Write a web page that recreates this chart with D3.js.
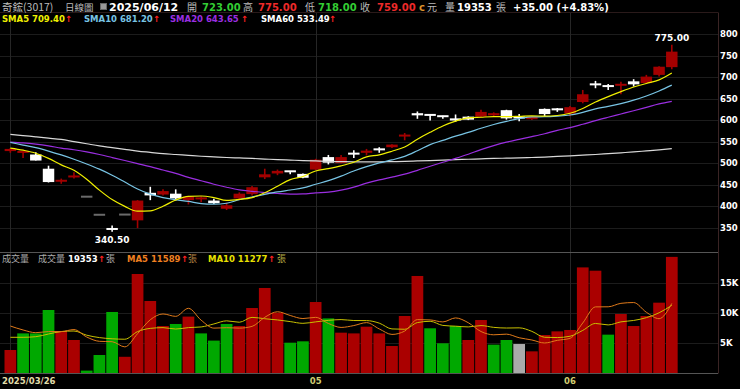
<html>
<head>
<meta charset="utf-8">
<script src="https://cdn.jsdelivr.net/npm/d3@7"></script>
<style>
body { margin: 0; background: #000; }
text { font-family: "DejaVu Sans", Verdana, sans-serif; }
.cjk { font-family: "Noto Sans CJK TC", "Noto Sans CJK SC", sans-serif; }
</style>
</head>
<body>
<svg id="chart" width="740" height="389"></svg>
<script>
// trading days shown (3017 daily)
var dates = ["2025/03/26","2025/03/27","2025/03/28","2025/03/31","2025/04/01","2025/04/02","2025/04/07","2025/04/08",
  "2025/04/09","2025/04/10","2025/04/11","2025/04/14","2025/04/15","2025/04/16","2025/04/17","2025/04/18","2025/04/21",
  "2025/04/22","2025/04/23","2025/04/24","2025/04/25","2025/04/28","2025/04/29","2025/04/30","2025/05/02","2025/05/05",
  "2025/05/06","2025/05/07","2025/05/08","2025/05/09","2025/05/12","2025/05/13","2025/05/14","2025/05/15","2025/05/16",
  "2025/05/19","2025/05/20","2025/05/21","2025/05/22","2025/05/23","2025/05/26","2025/05/27","2025/05/28","2025/05/29",
  "2025/06/02","2025/06/03","2025/06/04","2025/06/05","2025/06/06","2025/06/09","2025/06/10","2025/06/11","2025/06/12"];

var opens  = [528,522,520,487,457,467,422,380,347,380.5,367,431,427,429,414,415,413,394,418,428,467,476,481,475,485,514,500,522,524,532,537,561,616,612,609,604,608,608,611,623,606,602,626,625,615,642,683,679,678,690,686,705,723];
var highs  = [535,527,525,494,464,479,422,380,355,380.5,414,445,439,439,424,423,417,408,432,447,487,485,481,476,510,519,519,530,533,537,544,570,620,613,610,613,609,624,618,624,614,608,627,628,633,670,691,684,689,695,705,725,775];
var lows   = [524,512,506,455,452,464,422,380,340.5,380.5,349,414,425,413,404,409,405,391,416,425,463,472,474,465,484,497,499,512,518,524,535,553,603,599,603,596,600,606,609,601,597,600,608,619,609,639,674,670,660,678,684,701,718];
var closes = [533,526,506,456,459,469,422,380,346,380.5,413,425,435,418,422,418,407,402,429,444,474,482,479,466,508,501,514,521,529,531,543,564,611,609,605,599,601,619,616,604,604,607,614,624,630,660,682,677,682,683,701,724,759];
var prevClose = 525;

var volume = [3833,6600,6600,10500,7000,5500,400,3000,10170,2700,16500,12000,7830,8170,9400,6600,5400,8170,7830,10830,14170,10050,5050,5280,11830,9100,6720,6600,7720,6600,4500,9500,16170,7450,4950,7830,5500,8830,4720,5500,4830,3610,6330,6940,7170,17600,17050,6390,9830,7830,9500,11720,19353];

var sma5  = [535,530,523,511,496,483.2,462.4,437.2,415.2,399.5,388.3,388.9,399.9,414.3,422.6,423.6,420,413.4,415.6,420,431.2,446.2,461.6,469,481.8,487.2,493.6,502,514.6,519.2,527.6,537.6,555.6,571.6,586.4,597.6,605,606.6,608,607.8,608.8,610,609,610.6,615.8,627,642,654.6,666.2,676.8,685,693.4,709.4];
var sma10 = [548,542,536,528,519,509,498,486,472,456,440,428,420,415,411,406,404.5,406.7,415,421.3,427.4,433.1,437.5,442.3,450.9,459.2,469.9,481.8,491.8,500.5,507.4,515.6,528.8,543.1,552.8,562.6,571.3,581.1,589.8,597.1,603.2,607.5,607.8,609.3,611.8,617.9,626,631.8,638.4,646.3,656,667.7,681.2];
var sma20 = [549,547,544,540,535,531,526,520,513,506,499,492,484,476,467,459,451,444,438,434.5,431.6,429.4,428,428.5,431,432.6,437.2,444.2,453.4,460.9,467.4,474.4,483.2,492.7,501.9,510.9,520.6,531.5,540.8,548.8,555.3,561.6,568.3,576.2,582.3,590.3,598.7,606.5,614.1,621.7,629.6,637.6,643.65];
var sma60 = [567,564,561,558,555,550,545,540,536,532,528,525,522,520,518,516,514.5,513,512,511,509.5,508,507,506,505,504,503.5,503,503,503,503.5,504,505,506,507,508,509,510,511,511.5,512,513,514,515.5,517,518.5,520,522,524,526,528.5,531,533.49];

var volMa5  = [7830,7170,6720,6900,6907,7240,6000,5280,5214,4354,6554,8874,9840,9440,10780,8800,7480,7548,7480,7766,9280,10210,9586,9076,9276,8262,7596,7906,8394,7348,6428,6984,8898,8844,8514,9180,8380,6912,6366,6476,5876,5502,5002,5444,5778,8332,11020,11032,11610,11742,10122,9056,11589];
var volMa10 = [5950,5950,6050,6500,6900,7000,6300,5900,5700,5630,6897,7437,7560,7327,7567,7677,8177,8694,8460,9273,9040,8845,8567,8278,8521,8771,8903,8746,8735,8312,7345,7290,8402,8619,7931,7804,7682,7905,7605,7495,7528,6939,5955,5904,6126,7103,8258,8014,8524,8757,9224,10035,11277];

var priceTicks = [350,400,450,500,550,600,650,700,750,800];
var volTicks = [5000,10000,15000];
var volTickLabels = ["5K","10K","15K"];
var monthTicks = ["2025/03/26","2025/05/02","2025/06/02"];
var monthLabels = ["2025/03/26","05","06"];

var RED = "#a30000", GREEN = "#00a300";

var svg = d3.select("#chart");
svg.append("rect").attr("width",740).attr("height",389).attr("fill","#000");

var x = d3.scaleBand().domain(dates).range([4, 4 + 12.72 * dates.length]).padding(0);
var cx = function(d) { return x(d) + x.bandwidth() / 2; };
var y = d3.scaleLinear().domain([300, 800]).range([249.2, 34]);
var yv = d3.scaleLinear().domain([0, 20000]).range([373, 253]);

var rows = dates.map(function(d, i) {
  return {date: d, o: opens[i], h: highs[i], l: lows[i], c: closes[i], v: volume[i],
          pc: i === 0 ? prevClose : closes[i-1]};
});

// grid
var grid = svg.append("g");
grid.selectAll(".hp").data(priceTicks).enter().append("line")
  .attr("x1", 0).attr("x2", 718).attr("y1", function(d){ return Math.round(y(d)) + 0.5; })
  .attr("y2", function(d){ return Math.round(y(d)) + 0.5; }).attr("stroke", "#1c1c1c");
grid.selectAll(".hv").data(volTicks).enter().append("line")
  .attr("x1", 0).attr("x2", 718).attr("y1", function(d){ return Math.round(yv(d)) + 0.5; })
  .attr("y2", function(d){ return Math.round(yv(d)) + 0.5; }).attr("stroke", "#1c1c1c");
grid.selectAll(".vm").data(monthTicks).enter().append("line")
  .attr("x1", function(d){ return Math.round(cx(d)) + 0.5; }).attr("x2", function(d){ return Math.round(cx(d)) + 0.5; })
  .attr("y1", 13).attr("y2", 373).attr("stroke", "#262626");

// frame
svg.append("line").attr("x1",0).attr("x2",718).attr("y1",12.5).attr("y2",12.5).attr("stroke","#2a1a1a");
svg.append("line").attr("x1",718.5).attr("x2",718.5).attr("y1",12.5).attr("y2",373.5).attr("stroke","#3a2424");
svg.append("line").attr("x1",0).attr("x2",718).attr("y1",252.5).attr("y2",252.5).attr("stroke","#555");
svg.append("line").attr("x1",0).attr("x2",718).attr("y1",373.5).attr("y2",373.5).attr("stroke","#555");

// volume bars
svg.append("g").selectAll("rect").data(rows).enter().append("rect")
  .attr("x", function(d){ return x(d.date) + 0.5; })
  .attr("width", x.bandwidth() - 1)
  .attr("y", function(d){ return yv(d.v); })
  .attr("height", function(d){ return yv(0) - yv(d.v); })
  .attr("fill", function(d){ return d.c > d.pc ? "#aa0000" : (d.c < d.pc ? "#00a800" : "#aaaaaa"); });

var vline = function(arr) {
  return d3.line().x(function(d, i){ return cx(dates[i]); }).y(function(d){ return yv(d); })
    .curve(d3.curveMonotoneX)(arr);
};
svg.append("path").attr("d", vline(volMa10)).attr("fill","none").attr("stroke","#c8c000").attr("stroke-width",1);
svg.append("path").attr("d", vline(volMa5)).attr("fill","none").attr("stroke","#e07a1a").attr("stroke-width",1);

// candles
var bw = x.bandwidth() * 0.9;
var cg = svg.append("g").selectAll("g").data(rows).enter().append("g");
cg.append("line")
  .attr("x1", cx_d).attr("x2", cx_d)
  .attr("y1", function(d){ return y(d.h); }).attr("y2", function(d){ return y(d.l); })
  .attr("stroke", candleColor).attr("stroke-width", 1.6)
  .style("display", function(d){ return d.h === d.l ? "none" : null; });
cg.append("rect")
  .attr("x", function(d){ return cx(d.date) - bw / 2; })
  .attr("width", bw)
  .attr("y", function(d){ return y(Math.max(d.o, d.c)) - (Math.abs(y(d.o) - y(d.c)) < 2 ? 1 : 0); })
  .attr("height", function(d){ return Math.max(2, Math.abs(y(d.o) - y(d.c))); })
  .attr("fill", candleColor);

function cx_d(d) { return cx(d.date); }
function candleColor(d) {
  if (d.h === d.l) return "#6a6a6a";
  return d.c >= d.o ? RED : "#ffffff";
}

// price moving averages
var pline = function(arr) {
  return d3.line().x(function(d, i){ return cx(dates[i]); }).y(function(d){ return y(d); })
    .curve(d3.curveMonotoneX)(arr);
};
[[sma60, "#d8d8d8"], [sma20, "#9a2ee0"], [sma10, "#78c4e4"], [sma5, "#f0f000"]].forEach(function(s) {
  svg.append("path").attr("d", pline(s[0])).attr("fill","none").attr("stroke", s[1]).attr("stroke-width", 1.2);
});

// high / low annotations
var hiRow = rows[d3.maxIndex(rows, function(d){ return d.h; })];
var loRow = rows[d3.minIndex(rows, function(d){ return d.l; })];
svg.append("text").attr("x", cx(hiRow.date)).attr("y", y(hiRow.h) - 4).attr("text-anchor","middle")
  .attr("fill","#fff").attr("font-size", 9).attr("font-weight","bold").text(hiRow.h.toFixed(2));
svg.append("text").attr("x", cx(loRow.date)).attr("y", y(loRow.l) + 11).attr("text-anchor","middle")
  .attr("fill","#fff").attr("font-size", 9).attr("font-weight","bold").text(loRow.l.toFixed(2));

// right axes
var ay = svg.append("g").attr("transform","translate(718,0)")
  .call(d3.axisRight(y).tickValues(priceTicks).tickSize(0).tickPadding(2));
ay.select(".domain").remove();
ay.selectAll("text").attr("fill","#fff").attr("font-size", 8.5).attr("font-weight","bold")
  .attr("font-family","DejaVu Sans");
var av = svg.append("g").attr("transform","translate(718,0)")
  .call(d3.axisRight(yv).tickValues(volTicks).tickSize(0).tickPadding(2)
    .tickFormat(function(d, i){ return volTickLabels[i]; }));
av.select(".domain").remove();
av.selectAll("text").attr("fill","#fff").attr("font-size", 8.5).attr("font-weight","bold")
  .attr("font-family","DejaVu Sans");

// bottom axis
var ax = svg.append("g").attr("transform","translate(0,377)")
  .call(d3.axisBottom(x).tickValues(monthTicks).tickSize(0).tickPadding(1)
    .tickFormat(function(d, i){ return monthLabels[i]; }));
ax.select(".domain").remove();
ax.selectAll("text").attr("fill","#d0cc70").attr("font-size", 8.5).attr("font-weight","bold")
  .attr("font-family","DejaVu Sans");
ax.selectAll(".tick").filter(function(d, i){ return i === 0; }).select("text")
  .attr("text-anchor","start").attr("x", 2 - cx(monthTicks[0])).attr("fill","#e0dca8");

// header texts
function put(px, py, str, fill, opt) {
  opt = opt || {};
  var t = svg.append("text").attr("x", px).attr("y", py).attr("fill", fill)
    .attr("font-size", opt.size || 10).text(str);
  if (opt.bold) t.attr("font-weight","bold");
  if (opt.cjk) t.attr("class","cjk");
  return t;
}
var last = rows[rows.length - 1];
var chg = last.c - last.pc;
put(2, 10.5, "奇鋐(3017)", "#bbbbbb", {cjk: true, size: 10.5});
put(65, 10.5, "日線圖", "#bbbbbb", {cjk: true, size: 9.5});
svg.append("rect").attr("x",100.5).attr("y",3.5).attr("width",6).attr("height",6).attr("fill","#999").attr("stroke","#666");
put(109, 11, last.date, "#ffffff", {bold: true, size: 11});
put(187, 10.5, "開", "#bbbbbb", {cjk: true});
put(202, 10.5, last.o.toFixed(2), "#33cc33", {bold: true});
put(243, 10.5, "高", "#bbbbbb", {cjk: true});
put(258, 10.5, last.h.toFixed(2), "#ee2a2a", {bold: true});
put(305, 10.5, "低", "#bbbbbb", {cjk: true});
put(318, 10.5, last.l.toFixed(2), "#33cc33", {bold: true});
put(360, 10.5, "收", "#bbbbbb", {cjk: true});
put(377, 10.5, last.c.toFixed(2), "#ee2a2a", {bold: true});
put(419, 10.5, "c", "#d8902c", {bold: true});
put(427, 10.5, "元", "#bbbbbb", {cjk: true});
put(445, 10.5, "量", "#bbbbbb", {cjk: true});
put(457, 10.5, String(last.v), "#ffffff", {bold: true});
put(496, 10.5, "張", "#bbbbbb", {cjk: true});
put(513, 10.5, "+" + chg.toFixed(2) + " (+" + (chg / last.pc * 100).toFixed(2) + "%)", "#ffffff", {bold: true});

// MA legend
var lastIdx = dates.length - 1;
var legend = [["SMA5", sma5, "#f0f000", 2, 65], ["SMA10", sma10, "#78c4e4", 84, 153],
              ["SMA20", sma20, "#9a2ee0", 170, 241], ["SMA60", sma60, "#ffffff", 261, 329]];
legend.forEach(function(l) {
  put(l[3], 21.5, l[0] + " " + l[1][lastIdx].toFixed(2), l[2], {bold: true, size: 8.5});
  put(l[4], 21.5, "↑", "#ff2020", {bold: true, size: 8.5});
});

// volume legend
put(2, 262, "成交量", "#aaaaaa", {cjk: true, size: 9});
put(38, 262, "成交量", "#aaaaaa", {cjk: true, size: 9});
put(68, 262, String(last.v), "#ffffff", {bold: true, size: 8.5});
put(98, 262, "↑", "#ff2020", {bold: true, size: 8.5});
put(106, 262, "張", "#aaaaaa", {cjk: true, size: 9});
put(127, 262, "MA5 " + volMa5[lastIdx], "#f08020", {bold: true, size: 8.5});
put(181, 262, "↑", "#ff2020", {bold: true, size: 8.5});
put(188, 262, "張", "#b08040", {cjk: true, size: 9});
put(208, 262, "MA10 " + volMa10[lastIdx], "#e8e000", {bold: true, size: 8.5});
put(268, 262, "↑", "#ff2020", {bold: true, size: 8.5});
put(277, 262, "張", "#b0a840", {cjk: true, size: 9});
</script>
</body>
</html>
